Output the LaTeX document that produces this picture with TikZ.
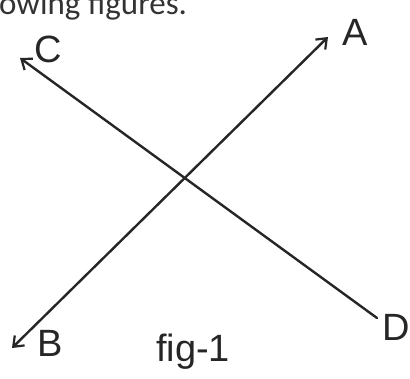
\documentclass[tikz,border=0pt]{standalone}
\usepackage{fontspec}
\setmainfont{Liberation Sans}
\newfontfamily\headfont{Carlito}
\usetikzlibrary{arrows.meta}
\begin{document}
\begin{tikzpicture}[x=1pt,y=-1pt,every node/.style={font=\fontsize{38}{38}\selectfont}]
    \tikzset{
      pen/.style={black!85,line width=2.4pt,line cap=round},
      barb/.tip={Straight Barb[length=9pt,width=14pt,line width=2.2pt]},
      hand/.style={black!85,inner sep=0pt}
    }
    \useasboundingbox (0,0) rectangle (410,378);
    % heading, cut at the top
    \node[anchor=base west,inner sep=0pt,text=black!80,font=\headfont\fontsize{33}{33}\selectfont] (head) at (-1,14) {owing figures.};
    % end points of the two lines
    \coordinate (tipA) at (328,37);
    \coordinate (tipB) at (12,348);
    \coordinate (tipC) at (20,58);
    \coordinate (endD) at (377,318);
    \draw[pen,barb-barb] (tipB) -- (tipA);
    \draw[pen,barb-] (tipC) -- (endD);
    \node[hand] (A) at (355,32) {A};
    \node[hand] (B) at (50,343) {B};
    \node[hand] (C) at (48,49) {C};
    \node[hand] (D) at (396,327) {D};
    \node[hand] (fig) at (193,352) {fig-1};
  \end{tikzpicture}
\end{document}
